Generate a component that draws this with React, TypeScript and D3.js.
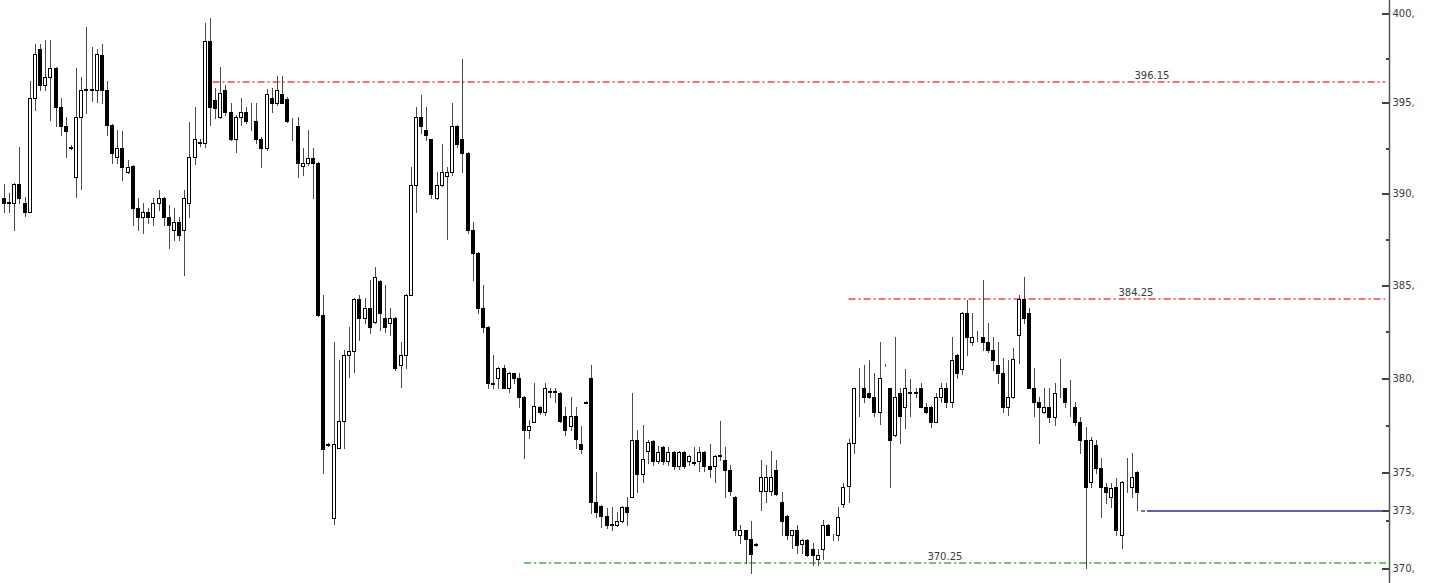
import { useEffect, useRef } from 'react';
import * as d3 from 'd3';

// candle values, one entry per bar, left to right
const opens = [
  389.75, 389.45, 389.45, 390.5, 389.45, 388.95, 395.25, 397.98, 395.97, 396.42,
  396.92, 394.75, 393.7, 392.55, 390.9, 394.2, 395.7, 395.75, 395.7, 397.65,
  395.7, 393.75, 392.0, 392.49, 391.17, 391.5, 389.19, 388.7, 388.97, 388.7,
  389.46, 389.74, 388.7, 388.0, 388.43, 388.0, 389.46, 392.0, 392.76, 392.76,
  398.43, 395.14, 394.2, 395.7, 394.48, 392.98, 394.2, 394.48, 393.98, 393.98,
  392.98, 392.49, 395.25, 394.97, 395.47, 395.2, 393.98, 393.7, 391.5, 391.67,
  391.94, 391.67, 383.39, 376.5, 372.62, 376.3, 377.73, 381.24, 381.46, 384.25,
  383.23, 383.77, 383.01, 385.22, 383.23, 382.96, 383.23, 380.7, 381.24, 384.47,
  390.46, 394.2, 393.48, 392.98, 389.74, 390.46, 390.95, 391.17, 393.7, 392.98,
  392.22, 387.99, 386.74, 383.77, 382.74, 379.74, 380.01, 380.55, 379.47, 380.28,
  380.01, 379.0, 377.25, 377.68, 378.47, 378.2, 379.26, 379.3, 379.2, 377.99,
  377.46, 377.99, 376.5, 378.73, 380.01, 373.45, 373.25, 372.72, 372.3, 372.25,
  372.46, 373.19, 373.71, 376.72, 374.93, 376.14, 376.66, 375.6, 376.35, 375.6,
  376.1, 375.35, 376.1, 375.6, 375.5, 375.6, 376.1, 375.35, 375.35, 375.85,
  375.66, 375.14, 373.71, 371.73, 371.99, 371.52, 371.25, 374.03, 374.03, 374.03,
  375.14, 373.45, 372.72, 371.73, 371.99, 371.26, 371.47, 371.0, 370.48, 371.0,
  372.25, 371.73, 371.73, 373.35, 374.29, 376.56, 379.47, 379.47, 379.2, 379.0,
  378.2, 380.7, 379.47, 376.99, 379.2, 378.47, 379.2, 379.25, 379.47, 378.47,
  378.47, 377.68, 379.0, 379.47, 378.73, 381.24, 380.49, 383.5, 381.93, 382.42,
  382.2, 381.93, 381.51, 380.7, 380.28, 378.47, 379.0, 382.31, 384.25, 383.5,
  379.47, 378.73, 378.2, 378.47, 377.94, 379.47, 379.47, 378.73, 378.47, 377.68,
  376.72, 374.5, 376.46, 375.24, 374.24, 373.71, 374.24, 371.73, 374.24, 374.24,
  375.04,
];

const highs = [
  390.5, 390.0, 390.55, 392.55, 389.8, 396.2, 398.25, 398.25, 398.5, 398.5,
  396.95, 395.25, 394.2, 392.65, 396.92, 396.42, 399.22, 398.1, 397.98, 398.25,
  396.2, 393.8, 393.48, 393.42, 391.83, 391.55, 389.74, 389.46, 389.19, 389.74,
  390.18, 389.8, 389.35, 389.19, 388.7, 390.18, 393.92, 394.75, 393.0, 399.44,
  399.72, 395.81, 396.97, 395.97, 394.98, 394.31, 395.25, 394.75, 394.97, 394.97,
  393.09, 395.75, 395.81, 396.48, 396.48, 395.3, 394.14, 394.2, 392.49, 393.48,
  392.49, 391.7, 384.47, 376.55, 381.93, 380.97, 381.51, 382.74, 384.3, 384.47,
  384.31, 385.28, 385.98, 385.28, 385.0, 383.77, 383.3, 381.93, 384.5, 391.45,
  394.75, 395.42, 394.75, 393.0, 391.17, 392.71, 391.45, 394.97, 393.75, 397.43,
  392.25, 388.43, 386.8, 385.0, 382.8, 381.24, 380.6, 380.7, 380.33, 380.3,
  380.28, 379.05, 377.78, 379.74, 378.5, 379.74, 379.47, 379.47, 379.25, 378.47,
  379.0, 378.47, 377.46, 378.8, 380.7, 375.04, 373.3, 373.14, 373.19, 372.93,
  373.25, 373.71, 379.2, 377.25, 377.51, 376.72, 376.72, 376.4, 376.4, 376.35,
  376.15, 376.15, 376.15, 375.9, 376.35, 376.35, 376.15, 376.5, 375.9, 377.73,
  376.35, 375.4, 373.75, 372.25, 372.0, 372.46, 371.3, 375.66, 375.4, 376.14,
  375.66, 373.97, 372.75, 372.0, 372.25, 371.5, 371.5, 371.31, 371.0, 372.51,
  372.3, 371.75, 373.19, 374.45, 376.77, 379.5, 380.55, 380.7, 380.97, 380.28,
  381.93, 380.75, 379.5, 382.2, 379.47, 380.5, 379.95, 379.47, 379.74, 378.68,
  378.5, 379.2, 379.74, 379.74, 382.2, 381.3, 383.55, 384.2, 383.5, 382.5,
  385.28, 382.96, 382.2, 381.93, 381.08, 380.97, 381.62, 384.47, 385.44, 383.77,
  380.55, 379.0, 379.47, 379.47, 379.74, 381.03, 379.5, 379.9, 378.73, 377.94,
  377.41, 376.88, 376.72, 375.77, 374.45, 374.45, 374.71, 374.55, 375.77, 376.03,
  375.1,
];

const lows = [
  388.95, 388.95, 388.0, 389.45, 388.75, 388.95, 394.6, 395.7, 395.7, 394.03,
  393.7, 393.2, 392.0, 392.45, 389.8, 390.24, 394.42, 395.1, 395.03, 394.97,
  393.2, 391.67, 391.67, 390.73, 391.12, 388.27, 388.0, 387.83, 388.38, 388.27,
  389.08, 388.27, 387.0, 387.45, 387.45, 385.55, 388.7, 391.6, 392.6, 392.55,
  393.75, 394.14, 394.14, 394.31, 392.93, 392.27, 393.75, 393.87, 393.48, 392.76,
  391.45, 392.38, 394.48, 394.86, 394.95, 393.92, 392.93, 390.9, 391.0, 391.56,
  389.74, 383.35, 374.98, 376.4, 372.3, 376.3, 376.3, 380.06, 380.33, 382.04,
  382.96, 382.42, 382.96, 382.58, 382.47, 382.31, 380.44, 379.53, 380.55, 384.45,
  389.0, 393.31, 392.93, 389.74, 389.7, 390.42, 387.5, 391.0, 392.55, 391.17,
  387.83, 385.28, 383.5, 382.47, 379.47, 379.47, 379.47, 379.45, 379.26, 379.74,
  378.47, 375.77, 376.83, 377.65, 378.1, 378.05, 379.0, 378.73, 377.68, 376.99,
  377.25, 376.3, 376.03, 378.65, 372.88, 372.67, 372.15, 372.1, 371.99, 372.2,
  372.4, 372.25, 373.7, 373.97, 374.5, 375.5, 375.4, 375.5, 375.45, 375.4,
  375.2, 375.2, 375.25, 375.4, 375.4, 375.1, 375.1, 374.78, 374.5, 375.66,
  373.71, 373.8, 371.73, 371.31, 370.27, 369.75, 371.15, 373.04, 373.45, 373.8,
  373.8, 371.73, 371.52, 371.05, 370.8, 370.8, 370.65, 370.17, 370.17, 370.48,
  371.7, 371.47, 371.47, 373.2, 373.45, 376.03, 378.0, 378.73, 378.95, 377.99,
  377.57, 380.65, 374.24, 376.95, 376.56, 377.35, 377.99, 379.0, 378.45, 378.15,
  377.41, 377.65, 378.73, 378.47, 378.47, 380.01, 380.22, 381.24, 381.77, 381.98,
  381.51, 381.4, 380.44, 379.74, 378.2, 378.05, 378.95, 380.81, 382.96, 379.45,
  377.99, 376.56, 378.15, 377.68, 377.51, 379.0, 378.47, 377.99, 377.51, 376.03,
  370.0, 374.24, 374.98, 372.67, 373.4, 373.19, 371.73, 371.05, 373.97, 373.71,
  373.04,
];

const closes = [
  389.45, 389.5, 390.5, 389.75, 388.95, 395.25, 397.7, 395.97, 396.42, 396.92,
  394.75, 393.7, 393.42, 392.5, 394.2, 395.7, 395.75, 395.7, 397.7, 395.7,
  393.75, 392.22, 392.49, 391.45, 391.45, 389.19, 388.7, 388.97, 388.7, 389.46,
  389.74, 388.7, 388.27, 388.43, 387.72, 389.74, 392.0, 392.98, 392.8, 398.43,
  394.75, 394.7, 395.53, 394.48, 392.98, 394.2, 394.48, 393.98, 394.0, 392.98,
  392.49, 395.47, 394.97, 395.7, 394.97, 393.98, 393.95, 391.67, 391.67, 391.94,
  391.67, 383.39, 376.24, 376.45, 376.5, 377.73, 381.24, 381.46, 384.25, 383.23,
  383.77, 382.74, 385.44, 383.5, 382.74, 383.23, 380.55, 381.24, 384.47, 390.46,
  394.2, 393.7, 393.2, 389.96, 390.46, 391.17, 391.17, 393.7, 392.71, 392.22,
  387.99, 386.74, 383.77, 382.74, 379.74, 379.7, 380.55, 379.47, 380.28, 380.01,
  379.0, 377.25, 377.46, 378.52, 378.2, 379.47, 379.3, 379.26, 377.73, 377.25,
  377.99, 376.77, 376.24, 378.7, 373.45, 372.93, 372.72, 372.25, 372.25, 372.46,
  373.19, 372.93, 376.72, 374.93, 375.7, 376.61, 375.6, 376.1, 375.6, 376.1,
  375.35, 376.1, 375.35, 375.85, 375.55, 376.1, 375.35, 375.2, 375.85, 375.9,
  375.14, 374.03, 371.99, 371.99, 371.52, 370.74, 371.2, 374.77, 374.77, 374.77,
  373.85, 372.46, 371.73, 371.99, 371.21, 371.47, 370.69, 370.69, 370.69, 372.25,
  371.73, 371.7, 372.67, 374.24, 376.56, 379.47, 379.5, 379.0, 379.0, 378.2,
  380.01, 380.7, 376.72, 379.0, 377.99, 379.47, 379.25, 379.2, 378.47, 378.2,
  377.68, 379.0, 379.47, 378.73, 380.97, 380.28, 383.5, 382.2, 382.2, 382.4,
  381.93, 381.51, 380.97, 380.28, 378.47, 379.0, 381.03, 384.25, 383.23, 379.47,
  378.73, 378.47, 378.47, 377.94, 379.2, 379.45, 378.73, 378.75, 377.68, 376.72,
  374.24, 376.72, 375.24, 374.24, 373.97, 374.18, 371.99, 374.5, 374.25, 374.77,
  373.97,
];

// price axis
const majorTicks = [400, 395, 390, 385, 380, 375, 373, 370];
const minorTicks = [397.5, 392.5, 387.5, 382.5, 377.5, 372.5];

// horizontal levels drawn across the chart
const levelValues = [396.15, 384.25, 370.25];
const levelNames = ['396.15', '384.25', '370.25'];
const levelStartBar = [40.5, 164, 101];
const levelLabelBar = [222.9, 219.8, 182.7];
const levelColors = ['#ff4040', '#ff4040', '#45ad45'];

const lastPrice = 373;

const CandleChart = () => {
  const svgRef = useRef(null);

  useEffect(() => {
    const width = 1432;
    const height = 583;
    const axisX = 1389;

    const x = d3.scaleLinear()
      .domain([0, opens.length - 1])
      .range([4, 1137]);

    const y = d3.scaleLog()
      .domain([370, 400])
      .range([568, 13]);

    const svg = d3.select(svgRef.current);
    svg.selectAll('*').remove();
    svg.attr('width', width).attr('height', height);

    svg.append('rect')
      .attr('width', width)
      .attr('height', height)
      .attr('fill', '#ffffff');

    // level lines (dash-dot), slightly soft like the original
    const levels = svg.append('g');
    levelValues.forEach((v, i) => {
      const ly = Math.round(y(v));
      levels.append('line')
        .attr('x1', x(levelStartBar[i]))
        .attr('x2', i === 2 ? axisX : axisX - 4)
        .attr('y1', ly)
        .attr('y2', ly)
        .attr('stroke', levelColors[i])
        .attr('stroke-width', 1.6)
        .attr('stroke-dasharray', '7,3,2,3');
      levels.append('text')
        .attr('x', x(levelLabelBar[i]))
        .attr('y', ly - 3)
        .attr('text-anchor', 'middle')
        .attr('font-family', 'DejaVu Sans, Verdana, sans-serif')
        .attr('font-size', 10)
        .attr('fill', '#3a3a44')
        .text(levelNames[i]);
    });

    // candles
    const candles = svg.append('g').attr('shape-rendering', 'crispEdges');
    opens.forEach((o, i) => {
      const c = closes[i];
      const px = Math.round(x(i));
      const up = c >= o;
      const top = Math.round(y(Math.max(o, c)));
      const bottom = Math.round(y(Math.min(o, c)));

      candles.append('line')
        .attr('x1', px + 0.5)
        .attr('x2', px + 0.5)
        .attr('y1', Math.round(y(highs[i])))
        .attr('y2', Math.round(y(lows[i])) + 1)
        .attr('stroke', '#4a4a4a');

      candles.append('rect')
        .attr('x', px - 1.5)
        .attr('y', top + 0.5)
        .attr('width', 3)
        .attr('height', Math.max(0, bottom - top))
        .attr('fill', up ? '#ffffff' : '#000000')
        .attr('stroke', '#000000')
        .attr('stroke-width', 1);
    });

    // last price marker and line
    const lastX = x(opens.length - 1);
    const lastY = Math.round(y(lastPrice));
    svg.append('line')
      .attr('x1', lastX + 4)
      .attr('x2', lastX + 8)
      .attr('y1', lastY)
      .attr('y2', lastY)
      .attr('stroke', '#444444')
      .attr('stroke-width', 1.4);
    svg.append('line')
      .attr('x1', lastX + 10)
      .attr('x2', axisX)
      .attr('y1', lastY)
      .attr('y2', lastY)
      .attr('stroke', '#2828b0')
      .attr('stroke-width', 1.6);

    // right price axis
    const axis = svg.append('g')
      .attr('transform', `translate(${axisX + 0.5}, 0)`)
      .call(
        d3.axisRight(y)
          .tickValues(majorTicks)
          .tickFormat(d => `${d},`)
          .tickSizeInner(0)
          .tickSizeOuter(0)
          .tickPadding(3)
      );
    axis.select('.domain').remove();
    axis.selectAll('.tick text')
      .attr('font-family', 'DejaVu Sans, Verdana, sans-serif')
      .attr('font-size', 10)
      .attr('fill', '#3a3a3a');
    axis.selectAll('.tick line')
      .attr('x1', -8)
      .attr('x2', 0)
      .attr('stroke', '#444444')
      .attr('stroke-width', 2)
      .attr('shape-rendering', 'crispEdges');

    axis.selectAll('.minor')
      .data(minorTicks)
      .enter()
      .append('line')
      .attr('x1', -4)
      .attr('x2', 0)
      .attr('y1', d => Math.round(y(d)) + 0.5)
      .attr('y2', d => Math.round(y(d)) + 0.5)
      .attr('stroke', '#444444')
      .attr('stroke-width', 2)
      .attr('shape-rendering', 'crispEdges');

    axis.append('line')
      .attr('x1', 0)
      .attr('x2', 0)
      .attr('y1', 0)
      .attr('y2', height)
      .attr('stroke', '#555555')
      .attr('stroke-width', 1.5);
  }, []);

  return <svg ref={svgRef} style={{ display: 'block' }}></svg>;
};

export default function App() {
  return (
    <div>
      <style>{'body { margin: 0; }'}</style>
      <CandleChart />
    </div>
  );
}
